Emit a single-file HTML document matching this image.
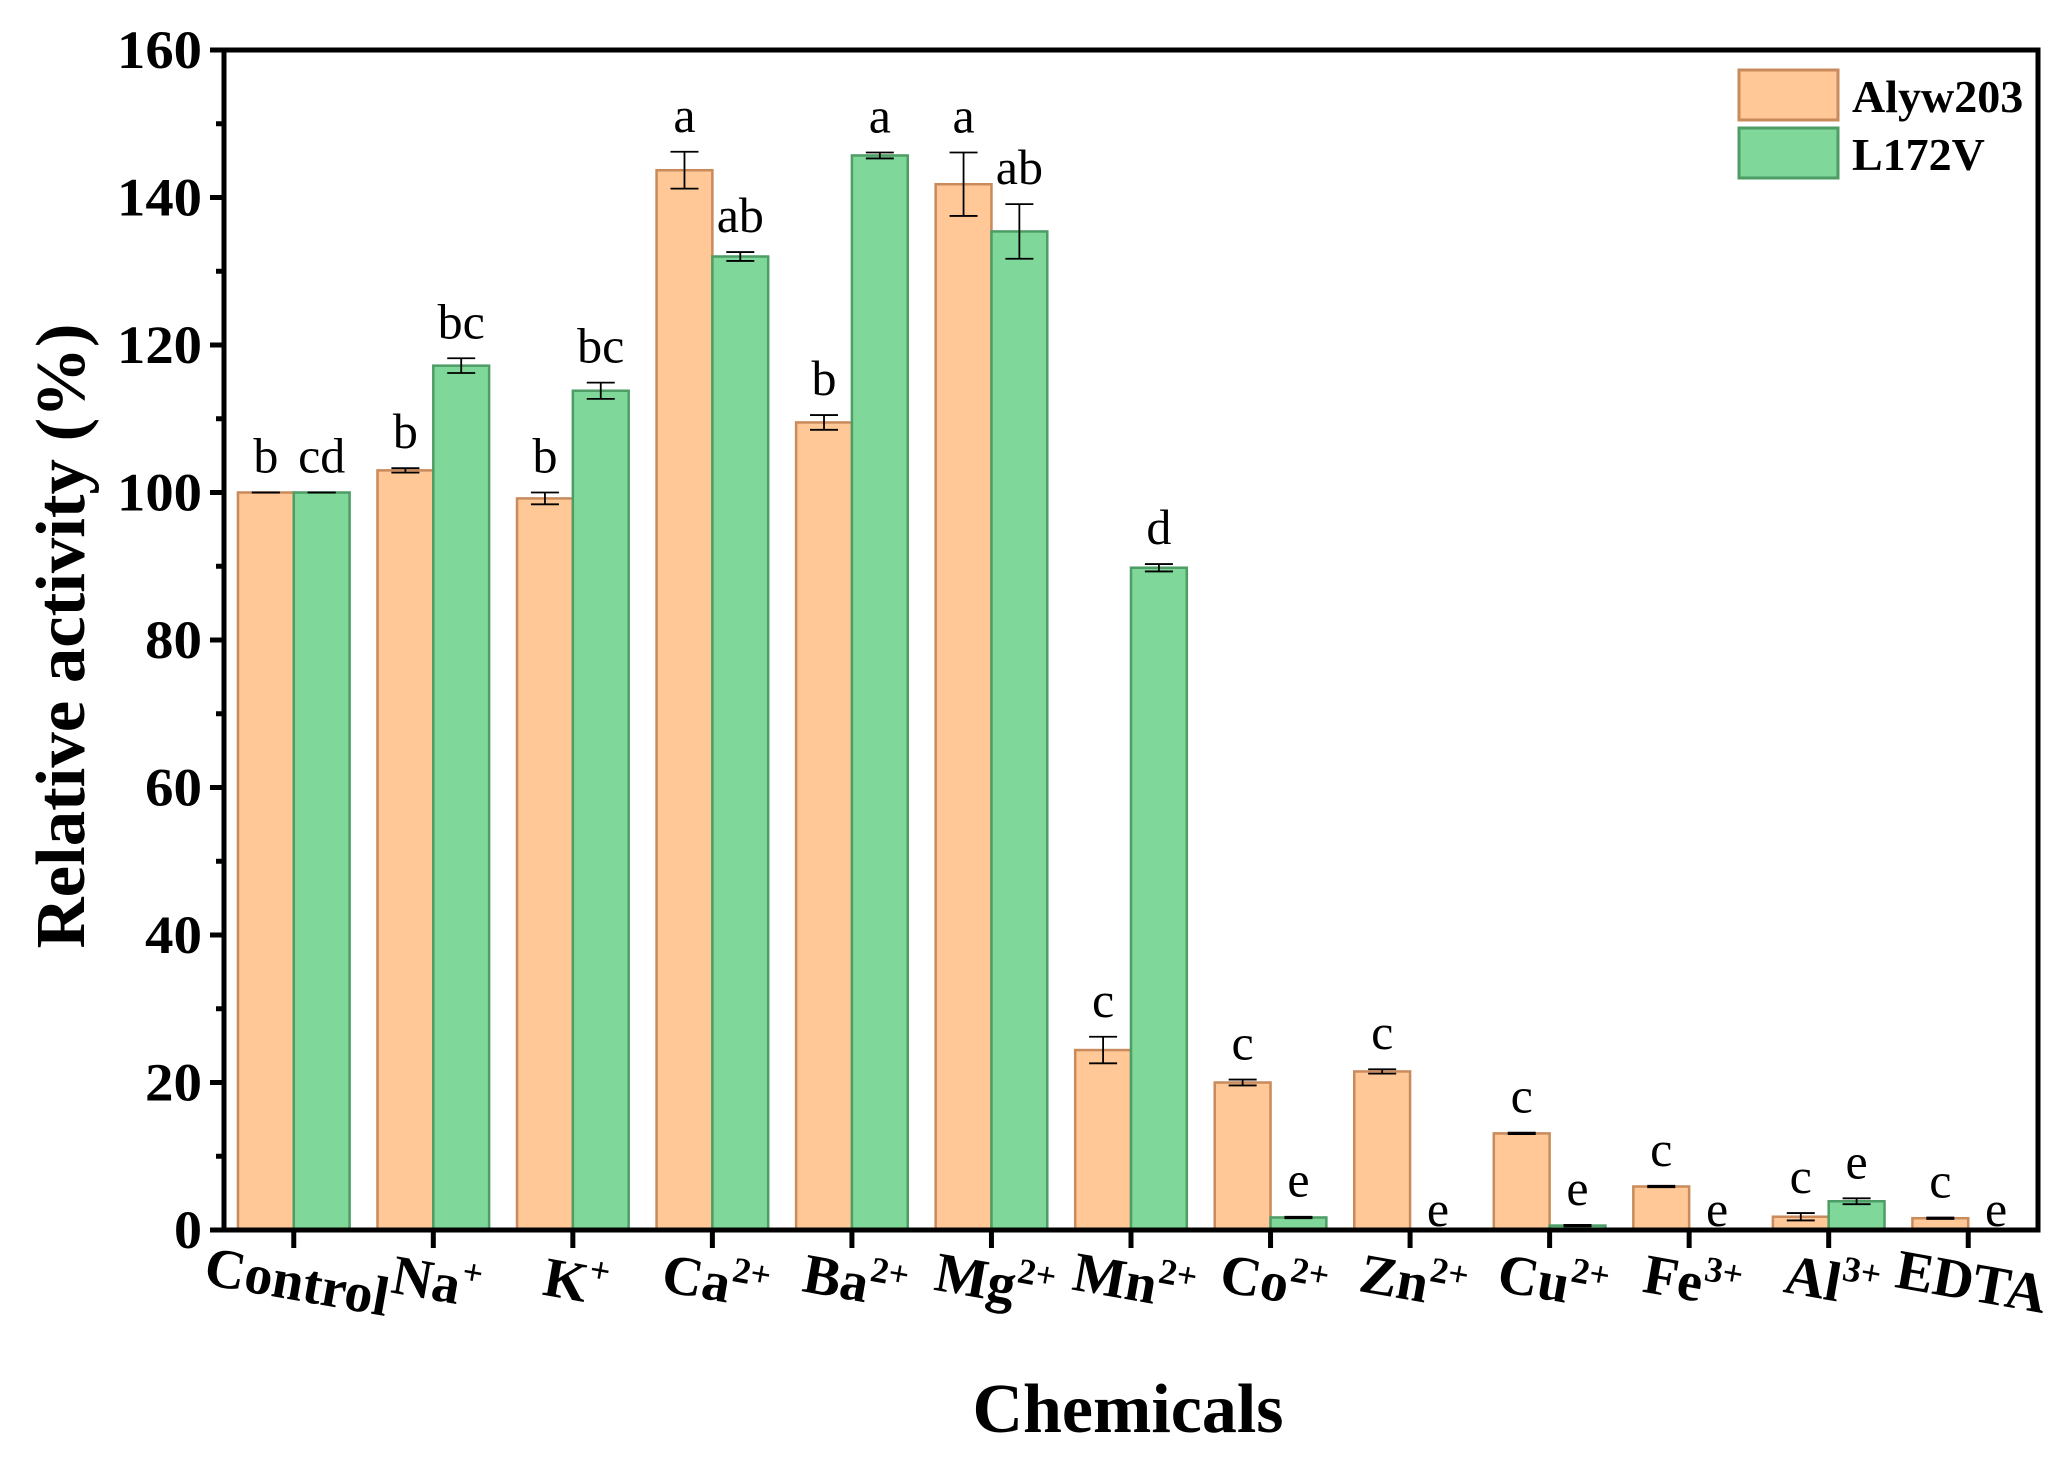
<!DOCTYPE html>
<html><head><meta charset="utf-8"><style>
html,body{margin:0;padding:0;background:#fff;}
svg{display:block;font-family:"Liberation Serif","Times New Roman",serif;}
</style></head>
<body>
<svg id="chart" width="2062" height="1462" viewBox="0 0 2062 1462" xmlns="http://www.w3.org/2000/svg">
<g id="plot"></g>
</svg>
<script>
const categories = ["Control","Na","K","Ca","Ba","Mg","Mn","Co","Zn","Cu","Fe","Al","EDTA"];
const charges = ["","+","+","2+","2+","2+","2+","2+","2+","2+","3+","3+",""];
const alywValues = [100,103,99.2,143.7,109.5,141.8,24.4,20,21.5,13.1,5.9,1.8,1.6];
const alywErrors = [0,0.3,0.8,2.5,1,4.3,1.8,0.4,0.3,0.1,0.1,0.5,0.1];
const l172vValues = [100,117.2,113.8,132,145.7,135.4,89.8,1.7,0,0.6,0,3.9,0];
const l172vErrors = [0,1,1.1,0.6,0.4,3.7,0.5,0.1,0,0.1,0,0.4,0];
const alywLetters = ["b","b","b","a","b","a","c","c","c","c","c","c","c"];
const l172vLetters = ["cd","bc","bc","ab","a","ab","d","e","e","e","e","e","e"];
const yTicks = [0,20,40,60,80,100,120,140,160];

const NS="http://www.w3.org/2000/svg";
const L=224,R=2038,T=50,B=1230,yMax=160;
const step=(R-L)/categories.length, bw=step*0.4;
const y=v=>B-(v/yMax)*(B-T);
const xc=i=>L+(i+0.5)*step;
const g=document.getElementById('plot');
function mk(tag,attrs,parent){const e=document.createElementNS(NS,tag);for(const k in attrs)e.setAttribute(k,attrs[k]);(parent||g).appendChild(e);return e;}

function series(vals,errs,letters,fill,stroke,offset,name){
  vals.forEach((v,i)=>{
    const x0=xc(i)+offset*bw;
    if(v>0){
      const r=mk('rect',{x:x0,y:y(v),width:bw,height:B-y(v),fill:fill,stroke:stroke,'stroke-width':2.5});
      
      
    }
    const cx=x0+bw/2, e=errs[i];
    if(v>0){
      const eg=mk('g',{stroke:'#000','stroke-width':1.8});
      
      
      mk('line',{x1:cx,x2:cx,y1:y(v+e),y2:y(v-e)},eg);
      mk('line',{x1:cx-14,x2:cx+14,y1:y(v+e),y2:y(v+e)},eg);
      mk('line',{x1:cx-14,x2:cx+14,y1:y(v-e),y2:y(v-e)},eg);
    }
    const t=mk('text',{x:cx,y:y(v+e)-(v>0?20:4),'text-anchor':'middle','font-size':50,fill:'#000'});
    t.textContent=letters[i];
    
    
  });
}
series(alywValues,alywErrors,alywLetters,'#FFC896','#C98A5C',-1,'alyw203');
series(l172vValues,l172vErrors,l172vLetters,'#7FD899','#4E9C66',0,'l172v');

const frame=mk('rect',{x:L,y:T,width:R-L,height:B-T,fill:'none',stroke:'#000','stroke-width':5});



yTicks.forEach(v=>{
  mk('line',{x1:L-14,x2:L,y1:y(v),y2:y(v),stroke:'#000','stroke-width':5});
  const t=mk('text',{x:L-22,y:y(v)+18,'text-anchor':'end','font-size':54,'font-weight':'bold','textLength':v>=100?85:(v>0?57:28),'lengthAdjust':'spacingAndGlyphs'});
  t.textContent=v;
  
  
});
for(let v=10;v<yMax;v+=20){mk('line',{x1:L-8,x2:L,y1:y(v),y2:y(v),stroke:'#000','stroke-width':5});}

categories.forEach((c,i)=>{
  mk('line',{x1:xc(i),x2:xc(i),y1:B,y2:B+18,stroke:'#000','stroke-width':5});
  const t=mk('text',{transform:`translate(${xc(i)},${B+70}) rotate(10)`,'text-anchor':'middle','font-size':56,'font-weight':'bold'});
  t.textContent=c;
  if(charges[i]){const s=mk('tspan',{'font-size':36,dy:-22},t);s.textContent=charges[i];}
  
  
});

const xt=mk('text',{x:1128,y:1432,'text-anchor':'middle','font-size':70,'font-weight':'bold'});
xt.textContent='Chemicals';


const yt=mk('text',{transform:'translate(84,636) rotate(-90)','text-anchor':'middle','font-size':70,'font-weight':'bold','textLength':625,'lengthAdjust':'spacingAndGlyphs'});
yt.textContent='Relative activity (%)';



[['Alyw203','#FFC896','#C98A5C',70],['L172V','#7FD899','#4E9C66',128]].forEach(([n,f,s,ty])=>{
  const lg=mk('g',{});
  
  
  mk('rect',{x:1739,y:ty,width:99,height:50,fill:f,stroke:s,'stroke-width':3},lg);
  const t=mk('text',{x:1852,y:ty+42,'font-size':46,'font-weight':'bold'},lg);
  t.textContent=n;
});
</script>
</body></html>
